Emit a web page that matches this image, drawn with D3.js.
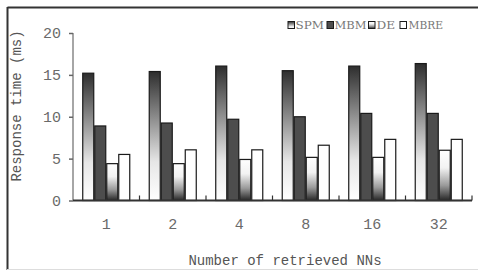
<!DOCTYPE html>
<html>
<head>
<meta charset="utf-8">
<script src="https://cdn.jsdelivr.net/npm/d3@7"></script>
<style>
  html, body { margin: 0; padding: 0; background: #fff; }
  svg { display: block; }
</style>
</head>
<body>
<svg id="chart" width="478" height="271"></svg>
<script>
const categories = ["1", "2", "4", "8", "16", "32"];
const seriesNames = ["SPM", "MBM", "DE", "MBRE"];
const SPM  = [15.2, 15.4, 16.05, 15.5, 16.05, 16.35];
const MBM  = [8.9, 9.25, 9.7, 10.0, 10.4, 10.4];
const DE   = [4.4, 4.4, 4.9, 5.15, 5.15, 6.0];
const MBRE = [5.5, 6.05, 6.05, 6.6, 7.3, 7.3];
const yTicks = [0, 5, 10, 15, 20];
const xTitle = "Number of retrieved NNs";
const yTitle = "Response time (ms)";

const values = { SPM, MBM, DE, MBRE };
const mono = "'Liberation Mono', 'Courier New', monospace";

const svg = d3.select("#chart");
const defs = svg.append("defs");

function grad(id, stops) {
  const g = defs.append("linearGradient").attr("id", id)
    .attr("x1", 0).attr("y1", 0).attr("x2", 0).attr("y2", 1);
  stops.forEach(([o, c]) => g.append("stop").attr("offset", o).attr("stop-color", c));
}
grad("gSPM", [[0, "#2e2e2e"], [0.35, "#8a8a8a"], [0.7, "#e6e6e6"], [1, "#ffffff"]]);
grad("gDE", [[0, "#ffffff"], [0.35, "#f2f2f2"], [0.7, "#9a9a9a"], [1, "#262626"]]);

const fills = { SPM: "url(#gSPM)", MBM: "#4d4d4d", DE: "url(#gDE)", MBRE: "#ffffff" };

// frame
svg.append("line").attr("x1", 7.5).attr("x2", 478).attr("y1", 7.5).attr("y2", 7.5)
  .attr("stroke", "#333").attr("stroke-width", 2);
svg.append("line").attr("x1", 7.5).attr("x2", 7.5).attr("y1", 7).attr("y2", 270)
  .attr("stroke", "#333").attr("stroke-width", 2);
svg.append("line").attr("x1", 7).attr("x2", 478).attr("y1", 269.5).attr("y2", 269.5)
  .attr("stroke", "#ddd").attr("stroke-width", 1);

const x = d3.scaleBand().domain(categories).range([73, 472]).paddingInner(0).paddingOuter(0);
const xi = d3.scaleBand().domain(seriesNames).range([0, x.bandwidth()]).paddingInner(0).paddingOuter(0.77);
const y = d3.scaleLinear().domain([0, 20]).range([200.5, 33]);

// y axis
const yAxis = svg.append("g").attr("transform", "translate(73,0)")
  .call(d3.axisLeft(y).tickValues(yTicks).tickSize(4).tickPadding(8).tickFormat(d3.format("d")));
yAxis.select(".domain").attr("stroke", "#888").attr("stroke-width", 1.5).attr("d", `M0,${y(20)}V${y(0)}`);
yAxis.selectAll(".tick line").attr("stroke", "#666").attr("stroke-width", 1.5);
yAxis.selectAll(".tick text").attr("font-family", mono).attr("font-size", 15).attr("fill", "#6a6a6a");

// bars
const groups = svg.append("g").selectAll("g").data(categories).join("g")
  .attr("transform", d => `translate(${x(d)},0)`);
groups.selectAll("rect").data((c, i) => seriesNames.map(s => ({ s, v: values[s][i] }))).join("rect")
  .attr("x", d => xi(d.s) + 0.5)
  .attr("width", xi.bandwidth() - 1)
  .attr("y", d => y(d.v))
  .attr("height", d => y(0) - y(d.v))
  .attr("fill", d => fills[d.s])
  .attr("stroke", "#1a1a1a")
  .attr("stroke-width", 1.2);

// x axis
const xAxis = svg.append("g").attr("transform", `translate(0,${y(0)})`)
  .call(d3.axisBottom(x).tickSize(0).tickPadding(18));
xAxis.select(".domain").attr("stroke", "#333").attr("stroke-width", 2).attr("d", `M73,0H472`);
xAxis.selectAll(".tick text").attr("font-family", mono).attr("font-size", 15).attr("fill", "#6a6a6a");
svg.append("g").selectAll("line").data(categories.slice(1).map(c => x(c)).concat([472])).join("line")
  .attr("x1", d => d).attr("x2", d => d).attr("y1", y(0)).attr("y2", y(0) - 5)
  .attr("stroke", "#333").attr("stroke-width", 1.2);

// titles
svg.append("text").attr("x", 285).attr("y", 265)
  .attr("text-anchor", "middle").attr("font-family", mono).attr("font-size", 14).attr("fill", "#555")
  .text(xTitle);
svg.append("text").attr("transform", "translate(21,106) rotate(-90)")
  .attr("text-anchor", "middle").attr("font-family", mono).attr("font-size", 14).attr("fill", "#555")
  .text(yTitle);

// legend
const legendPos = [
  { icon: 288, text: 295.5, w: 28.5 },
  { icon: 327, text: 334.5, w: 32 },
  { icon: 368.5, text: 376.5, w: 18.5 },
  { icon: 400, text: 408.5, w: 34.5 }
];
const lg = svg.append("g").selectAll("g").data(seriesNames).join("g");
lg.append("rect")
  .attr("x", (d, i) => legendPos[i].icon).attr("y", 21.5).attr("width", 6.5).attr("height", 7)
  .attr("fill", d => fills[d]).attr("stroke", "#1a1a1a").attr("stroke-width", 1);
lg.append("text")
  .attr("x", (d, i) => legendPos[i].text).attr("y", 29)
  .attr("textLength", (d, i) => legendPos[i].w).attr("lengthAdjust", "spacingAndGlyphs")
  .attr("font-family", "'DejaVu Serif', serif").attr("font-size", 10.5).attr("fill", "#777")
  .text(d => d);
</script>
</body>
</html>
